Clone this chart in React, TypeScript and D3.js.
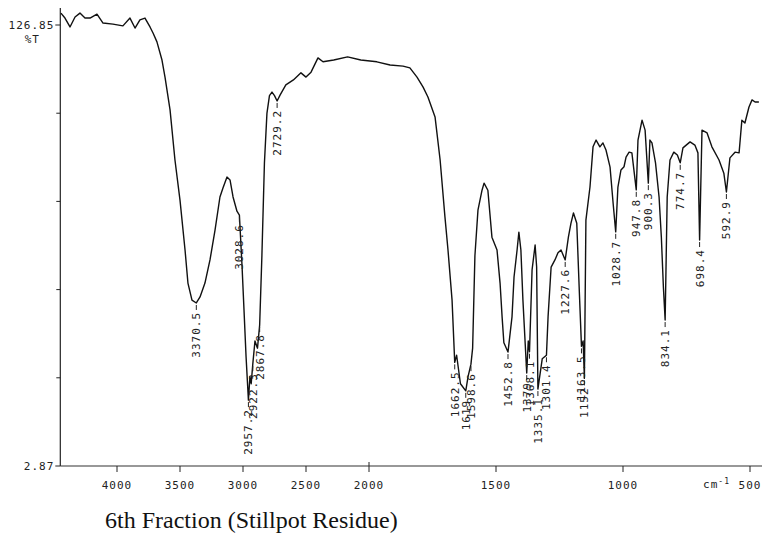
import * as d3 from "d3";

// IR spectrum: [wavenumber cm-1, %T]
const spectrum: [number, number][] = [
  [4445, 130.2], [4413, 128.8], [4373, 126.3], [4333, 129.1], [4294, 130.2], [4254, 128.8],
  [4214, 128.8], [4159, 129.9], [4111, 127.4], [4032, 127.1], [3953, 126.6], [3897, 128.8],
  [3857, 126.0], [3818, 128.3], [3778, 128.8], [3738, 126.3], [3714, 124.6], [3683, 122.1],
  [3643, 117.0], [3619, 112.2], [3579, 103.0], [3540, 88.9], [3500, 77.6], [3460, 63.6],
  [3437, 54.3], [3405, 49.5], [3370.5, 48.7], [3341, 50.4], [3302, 54.3], [3262, 60.8],
  [3222, 69.2], [3183, 78.5], [3159, 81.0], [3127, 84.1], [3103, 83.3], [3079, 78.5],
  [3048, 74.5], [3028.6, 73.4], [3008, 59.4], [2992, 46.7], [2976, 33.8], [2957, 21.4],
  [2945, 28.0], [2935, 26.0], [2922.3, 31.5], [2905, 38.0], [2885, 36.0], [2867.8, 42.5],
  [2850, 62.0], [2830, 88.0], [2810, 102.0], [2790, 107.0], [2770, 108.0], [2750, 107.0],
  [2729.2, 105.5], [2705, 107.2], [2660, 110.0], [2600, 111.4], [2540, 113.4], [2500, 112.2],
  [2460, 113.6], [2405, 117.6], [2365, 116.5], [2280, 117.0], [2170, 117.9], [2065, 117.0],
  [1969, 116.5], [1917, 115.6], [1866, 115.3], [1839, 114.8], [1811, 112.2], [1787, 109.4],
  [1768, 106.6], [1740, 101.0], [1720, 88.9], [1701, 72.9], [1689, 63.6], [1673, 49.5],
  [1662.5, 32.0], [1655, 34.0], [1640, 26.0], [1619, 24.0], [1610, 28.0], [1598.6, 31.5],
  [1592, 36.0], [1583, 62.0], [1571, 74.8], [1555, 80.4], [1547, 82.4], [1532, 80.4],
  [1516, 67.2], [1496, 63.6], [1484, 54.3], [1476, 44.8], [1469, 37.5], [1452.8, 34.9],
  [1437, 44.8], [1429, 56.0], [1417, 63.6], [1410, 68.6], [1402, 63.6], [1394, 49.5],
  [1379, 29.0], [1373, 38.0], [1368.1, 35.0], [1358, 58.0], [1346, 65.0], [1340, 58.8],
  [1335, 24.5], [1318, 33.0], [1301.4, 34.0], [1295, 44.8], [1283, 58.8], [1268, 60.8],
  [1256, 62.8], [1244, 63.6], [1227.6, 60.8], [1215, 67.2], [1205, 71.1], [1195, 74.0],
  [1182, 71.1], [1172, 52.0], [1163.5, 36.5], [1157, 38.0], [1152, 27.5], [1146, 72.0],
  [1130, 81.3], [1118, 92.6], [1106, 94.5], [1091, 92.6], [1079, 93.7], [1067, 91.7],
  [1051, 86.9], [1039, 76.8], [1028.7, 68.7], [1020, 81.3], [1008, 86.1], [996, 87.0],
  [988, 89.7], [976, 91.1], [965, 90.9], [947.8, 80.5], [941, 94.5], [925, 100.1],
  [913, 97.3], [900.3, 82.4], [894, 94.5], [886, 93.7], [872, 88.1], [858, 78.5],
  [849, 67.2], [841, 53.2], [834.1, 43.9], [826, 78.5], [815, 88.9], [800, 91.1],
  [786, 90.3], [774.7, 88.1], [764, 92.3], [736, 94.0], [717, 93.1], [705, 90.9],
  [698.4, 66.4], [689, 97.3], [669, 96.5], [650, 92.6], [622, 88.9], [603, 85.2],
  [592.9, 79.9], [579, 89.5], [559, 91.1], [543, 90.9], [532, 100.1], [520, 99.3],
  [504, 103.8], [492, 105.8], [480, 105.2], [465, 105.2],
];

const peakWn = [3370.5, 3028.6, 2957, 2922.3, 2867.8, 2729.2, 1662.5, 1619, 1598.6, 1452.8,
  1379, 1368.1, 1335, 1301.4, 1227.6, 1163.5, 1152, 1028.7, 947.8, 900.3, 834.1, 774.7,
  698.4, 592.9];
const peakLabels = ["3370.5", "3028.6", "2957.2", "2922.3", "2867.8", "2729.2", "1662.5",
  "1619", "1598.6", "1452.8", "1379", "1368.1", "1335.1", "1301.4", "1227.6", "1163.5",
  "1152", "1028.7", "947.8", "900.3", "834.1", "774.7", "698.4", "592.9"];

const xTicks = [4000, 3500, 3000, 2500, 2000, 1500, 1000, 500];
const yTop = 126.85;
const yBottom = 2.87;
const yMinor = [27.67, 52.46, 77.26, 102.05];
const title = "6th Fraction (Stillpot Residue)";

const W = 762;
const H = 539;
const BREAK_X = 369;
// chart uses a 2x expanded scale below 2000 cm-1
const x = d3
  .scaleLinear()
  .domain([4450, 2000, 460])
  .range([BREAK_X - 2450 * 0.126, BREAK_X, BREAK_X + 1540 * 0.254]);
const y = d3.scaleLinear().domain([yBottom, yTop]).range([466, 25]);

const MONO = "'DejaVu Sans Mono', monospace";
const txt = { fontFamily: MONO, fontSize: 11, letterSpacing: 1, fill: "#222" };

export default function App() {
  const line = d3
    .line<[number, number]>()
    .x((d) => x(d[0]))
    .y((d) => y(d[1]));
  const axisY = y(yBottom);
  const axisX = x.range()[0];

  const tAt = (wn: number) => spectrum.find((d) => d[0] === wn)?.[1] ?? 50;

  return (
    <svg
      width={W}
      height={H}
      style={{ position: "absolute", left: 0, top: 0, background: "#fff" }}
    >
      {/* y axis */}
      <line x1={axisX} x2={axisX} y1={8} y2={axisY} stroke="#222" strokeWidth={1.2} />
      <line x1={axisX - 5} x2={axisX} y1={y(yTop)} y2={y(yTop)} stroke="#222" />
      <line x1={axisX - 5} x2={axisX} y1={axisY} y2={axisY} stroke="#222" />
      {yMinor.map((v) => (
        <line key={v} x1={axisX - 4} x2={axisX} y1={y(v)} y2={y(v)} stroke="#222" />
      ))}
      <text x={axisX - 6} y={y(yTop) + 4} textAnchor="end" {...txt}>
        126.85
      </text>
      <text x={40} y={y(yTop) + 18} textAnchor="end" {...txt}>
        %T
      </text>
      <text x={axisX - 6} y={axisY + 4} textAnchor="end" {...txt}>
        2.87
      </text>

      {/* x axis */}
      <line x1={axisX} x2={W} y1={axisY} y2={axisY} stroke="#333" strokeWidth={1.2} />
      {xTicks.map((t) => (
        <g key={t}>
          <line
            x1={x(t)}
            x2={x(t)}
            y1={t === 2000 ? axisY - 4 : axisY}
            y2={axisY + 6}
            stroke="#222"
          />
          <text x={x(t)} y={axisY + 23} textAnchor="middle" {...txt}>
            {t}
          </text>
        </g>
      ))}
      <text x={x(500) - 20} y={axisY + 22} textAnchor="end" {...txt}>
        cm<tspan dy={-4} fontSize={8}>-1</tspan>
      </text>

      {/* spectrum */}
      <path d={line(spectrum) ?? ""} fill="none" stroke="#111" strokeWidth={1.4} strokeLinejoin="round" />

      {/* peak labels */}
      {peakWn.map((wn, i) => {
        const px = x(wn);
        const py = y(tAt(wn));
        return (
          <g key={wn}>
            <line x1={px} x2={px} y1={py + 2} y2={py + 7} stroke="#222" />
            <text
              transform={`translate(${px + 4},${py + 9}) rotate(-90)`}
              textAnchor="end"
              {...txt}
            >
              {peakLabels[i]}
            </text>
          </g>
        );
      })}

      <text x={105} y={528} fontFamily="'Liberation Serif', serif" fontSize={24} fill="#111">
        {title}
      </text>
    </svg>
  );
}
